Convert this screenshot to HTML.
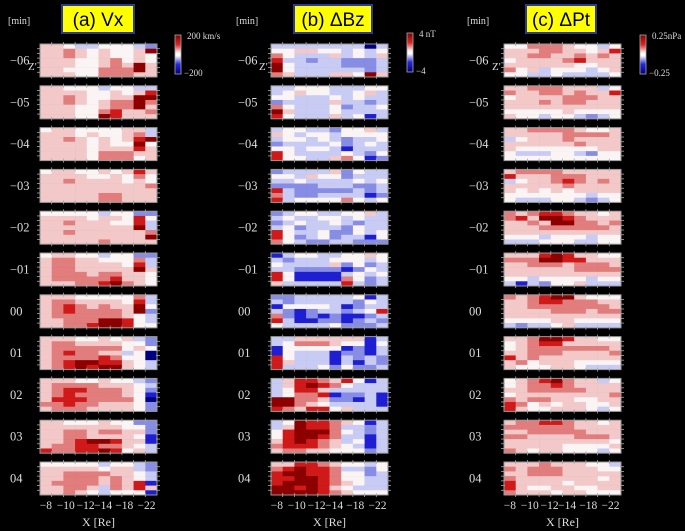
<!DOCTYPE html>
<html><head><meta charset="utf-8">
<style>
html,body{margin:0;padding:0;background:#000;}
svg{display:block;font-family:"Liberation Serif",serif;}
</style></head>
<body>
<svg id="fig" width="685" height="531" viewBox="0 0 685 531" xmlns="http://www.w3.org/2000/svg">
<rect x="0" y="0" width="685" height="531" fill="#000"/>
</svg>
<script>
// time steps (rows of panels)
const times = ["−06","−05","−04","−03","−02","−01","00","01","02","03","04"];
// x tick labels
const xTicks = ["−8","−10","−12","−14","−18","−22"];
const xTickCols = [0.5,2.2,3.9,5.4,7.2,9.1];
// panel titles and colour-bar labels
const titles = ["(a)  Vx","(b) ΔBz","(c) ΔPt"];
const cbTop = ["200 km/s","4  nT","0.25nPa"];
const cbBot = ["−200","−4","−0.25"];
// data: digit d -> value d-4 (range -4..4), 7 rows x 10 columns per time step
const vxData = [
["5543344432","5565454458","5565454454","5554456454","5554456585","5544466685","5554466655"],
["5544434433","5555445457","5565445588","5565456686","5554456685","5554467556","5554487555"],
["4554444553","5554544563","5565454578","5555454484","5555455575","5555466655","5555466645"],
["4554454575","5555445464","5565555454","5555555556","5555555555","5555566555","5555566555"],
["4444434422","5555455474","5565554473","5555555583","5565555556","5555555558","5555565555"],
["4554434422","5665544463","5665555473","5665555585","5666566554","5666667554","5556678654"],
["5554444463","5665555473","5676565584","5676666582","5666666543","5566688743","5566788744"],
["5554454532","5665555442","5666666454","5676655340","5666676440","5678877543","5678788543"],
["5554454432","5666655543","5677666542","5676666541","5777666640","6676655542","5666555542"],
["5544454422","5555555442","5566566552","5566555541","5567887551","5667766543","7667787453"],
["4444434432","5555545532","5566665543","5566656543","5666656571","5566536575","5565434441"]
];
const bzData = [
["3333333303","4455443434","6433353435","7332332223","8433332223","8433333323","6533355485"],
["3344433344","3454433453","4433343433","2333353323","6433342334","8533343333","7433353413"],
["3443324453","5434434444","3443432334","2333342343","4434431333","7433334324","7443356412"],
["2333352433","4435442333","3343333434","2222333223","7322222323","6322333312","7344446434"],
["2344334453","3433443433","2343343233","3423332433","7433422434","7423423314","6432233222"],
["1344334454","3233344434","4333352423","3322221243","7411113434","7411116423","5333337323"],
["2233333413","3233333243","1444431233","3212332347","6212121123","7311221232","4333342223"],
["3355555513","3466654414","1444441213","1433312213","7433313232","7533313132","7333424223"],
["3577657413","3578764333","3477533333","3466712231","8866522131","8865433331","7657745333"],
["3487765413","3587763323","4788864323","4788763313","5787653413","6777654313","5665544423"],
["5577654434","6787763324","7887764423","7788764433","7888765433","8878754333","8888765444"]
];
const ptData = [
["4466654434","5556655457","5566556565","4555567555","5555554455","6453444345","4433433334"],
["5566655534","6556656557","4555566655","5556566555","5555555555","4444454444","5443443234"],
["5566665445","5555566665","3455565555","5555556555","5444444455","4333443244","4444444444"],
["5666655555","7555666555","3455676565","5555565555","5454545555","4444444344","4333443234"],
["6567765545","6758876555","5565886656","5556666665","5555555555","4443444344","3334443344"],
["5557875544","6668877555","5566656665","5555556666","5555555555","4434444344","3132445333"],
["6567885444","5567766655","5566666665","5555666566","5555555555","4444554444","3233453333"],
["5568875544","4567755555","4566666665","5566655556","7565555555","5645554444","5444554333"],
["4567865534","4566765555","5566666555","4555555556","6566554455","7645455445","7544555434"],
["5667765545","6666665555","5566666555","6655556665","5555555554","5555544445","6545544434"],
["5556555443","6566655544","5566655555","6555555545","7555545555","7544554455","6555455444"]
];

const NS="http://www.w3.org/2000/svg";
const svg=document.getElementById('fig');
function mk(tag,attrs,parent){const e=document.createElementNS(NS,tag);for(const k in attrs)e.setAttribute(k,attrs[k]);(parent||svg).appendChild(e);return e;}
const posCols=[[250,244,244],[242,200,200],[226,125,125],[208,25,25],[140,0,0]];
const negCols=[[244,244,252],[200,204,244],[135,140,228],[30,30,210],[0,0,130]];
function colorOf(v){const a=Math.abs(v);const c=v>=0?posCols[a]:negCols[a];return `rgb(${c[0]},${c[1]},${c[2]})`;}

const panels=[{x0:40,data:vxData,lab:8,tx:62,tw:72,cb:175},{x0:271,data:bzData,lab:236,tx:294,tw:78,cb:407},{x0:504,data:ptData,lab:467,tx:526,tw:70,cb:640}];
const PW=117,PH=33,Y0=44,DY=41.8,NC=10,NR=7;
function xScale(p,c){return p.x0+c*PW/NC;}
function yScale(t,r){return Y0+t*DY+r*PH/NR;}

panels.forEach((p,pi)=>{
  const g=mk('g',{});
  
  
  const tb=mk('rect',{x:p.tx,y:5,width:p.tw,height:28,fill:'#ffff00',stroke:'#2a3a9a','stroke-width':2},g);
  
  
  const tt=mk('text',{x:p.tx+p.tw/2,y:26,'font-size':19,'text-anchor':'middle',fill:'#000','font-family':'Liberation Sans, sans-serif'},g);
  tt.textContent=titles[pi];
  
  
  const mn=mk('text',{x:p.lab,y:24,'font-size':10,fill:'#ddd'},g);
  mn.textContent='[min]';
  
  
  const gr=mk('linearGradient',{id:'cbg'+pi,x1:0,y1:0,x2:0,y2:1},g);
  [[0,'rgb(130,0,0)'],[0.25,'rgb(220,40,40)'],[0.47,'#fff'],[0.53,'#fff'],[0.75,'rgb(40,40,220)'],[1,'rgb(0,0,120)']].forEach(s=>mk('stop',{offset:s[0],'stop-color':s[1]},gr));
  const cby=pi==1?33:35;
  const cbr=mk('rect',{x:p.cb,y:cby,width:6,height:39,fill:`url(#cbg${pi})`,stroke:'#aaa','stroke-width':0.8},g);
  
  
  const c1=mk('text',{x:p.cb+12,y:cby+4,'font-size':9,fill:'#ddd'},g);c1.textContent=cbTop[pi];
  
  
  const c2=mk('text',{x:p.cb+9,y:cby+41,'font-size':9,fill:'#ddd'},g);c2.textContent=cbBot[pi];
  
  
  p.data.forEach((rows,t)=>{
    const hg=mk('g',{},g);
    
    
    rows.forEach((row,r)=>{
      for(let c=0;c<NC;c++){
        const v=parseInt(row[c])-4;
        const x=xScale(p,c),y=yScale(t,r);
        const cell=mk('rect',{x:x,y:y,width:xScale(p,c+1)-x+0.3,height:yScale(t,r+1)-y+0.3,fill:colorOf(v)},hg);
        
        
      }
    });
    const top=yScale(t,0),bot=yScale(t,NR);
    mk('rect',{x:p.x0,y:top,width:PW,height:PH,fill:'none',stroke:'#999','stroke-width':1},hg);
    for(let c=1;c<NC;c++){const x=xScale(p,c);mk('line',{x1:x,x2:x,y1:top-2,y2:top+2,stroke:'#aaa','stroke-width':0.8},hg);mk('line',{x1:x,x2:x,y1:bot-2,y2:bot+2,stroke:'#aaa','stroke-width':0.8},hg);}
    for(let r=1;r<NR;r++){const y=yScale(t,r);mk('line',{x1:p.x0-3,x2:p.x0+1,y1:y,y2:y,stroke:'#aaa','stroke-width':0.8},hg);mk('line',{x1:p.x0+PW-1,x2:p.x0+PW+3,y1:y,y2:y,stroke:'#aaa','stroke-width':0.8},hg);}
    const tl=mk('text',{x:p.lab+2,y:top+PH/2+4,'font-size':12.5,fill:'#ddd'},g);
    tl.textContent=times[t];
    
    
  });
  const z=mk('text',{x:p.x0-12,y:Y0+26,'font-size':11,fill:'#ddd'},g);z.textContent="Z'";
  
  
  xTicks.forEach((lb,i)=>{
    const tx=mk('text',{x:xScale(p,xTickCols[i]),y:509,'font-size':11.5,fill:'#ddd','text-anchor':'middle'},g);
    tx.textContent=lb;
    
    
  });
  const xt=mk('text',{x:p.x0+PW/2,y:526,'font-size':12,fill:'#ddd','text-anchor':'middle'},g);
  xt.textContent='X [Re]';
  
  
});
</script>
</body></html>
